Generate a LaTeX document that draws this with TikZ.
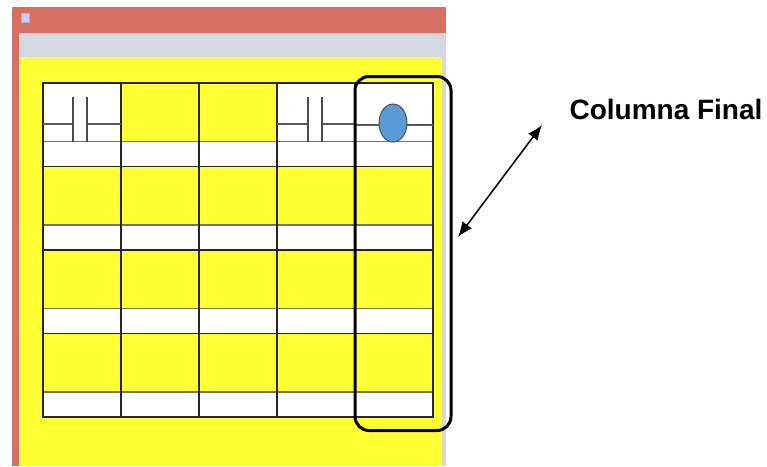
\documentclass[tikz,border=0pt]{standalone}
\usepackage{fontspec}
\setmainfont{Liberation Sans}
\usetikzlibrary{arrows.meta}
\definecolor{titulo}{RGB}{214,112,98}
\definecolor{barra}{RGB}{213,216,224}
\definecolor{amarillo}{RGB}{255,255,51}
\definecolor{celeste}{RGB}{91,155,213}
\tikzstyle{reja} = [draw=black!85, line width=1.1]
\tikzstyle{franja} = [draw=black!55, line width=1.1]
\tikzstyle{cable} = [draw=black!65, line width=1.3]
\tikzstyle{placa} = [draw=black!70, line width=2.6]
\begin{document}
\begin{tikzpicture}[x=1pt,y=-1pt]
				\useasboundingbox (0,0) rectangle (767,466);
				% ventana
				\fill [titulo] (12,7) rectangle (446,466);
				\fill [barra] (19,33) rectangle (446,466);
				\fill [amarillo] (19,57) rectangle (442,466);
				\fill [blue!20!white, draw=black!30] (21,13) rectangle (29,22);
				
				% celdas
				\foreach \c in {0,...,4}
					\foreach \r in {0,...,3}
						\fill [white] (43+78*\c, 141.5+83.5*\r) rectangle ++(78,25);
				\fill [white] (43,83) rectangle (121,142);
				\fill [white] (277,83) rectangle (433,142);
				\foreach \r in {0,...,3}
					\draw [franja] (43, 141.5+83.5*\r) -- (433, 141.5+83.5*\r);
				\foreach \r in {1,2,3}
					\draw [reja] (43, 83+83.5*\r) -- (433, 83+83.5*\r);
				\foreach \c in {1,...,4}
					\draw [reja] (43+78*\c, 83) -- (43+78*\c, 417);
				\draw [reja] (43,83) rectangle (433,417);
				
				% condensadores y lampara
				\draw [cable] (43,124) -- (73,124);
				\draw [cable] (87,124) -- (121,124);
				\draw [placa] (73,97) -- (73,142);
				\draw [placa] (87,97) -- (87,142);
				\draw [cable] (277,124) -- (308,124);
				\draw [cable] (322,124) -- (355,124);
				\draw [placa] (308,97) -- (308,142);
				\draw [placa] (322,97) -- (322,142);
				\draw [cable] (355,125) -- (433,125);
				\draw [fill=celeste, draw=black!70, line width=1] (393,123) ellipse (14 and 19);
				
				% columna final
				\node (marco) [draw, line width=3, rounded corners=14, inner sep=0,
					minimum width=96, minimum height=354] at (403,253.5) {};
				\node (final) [anchor=base west, font=\bfseries\fontsize{28}{34}\selectfont] at (566,119) {Columna Final};
				\coordinate (pA) at (458,237);
				\coordinate (pB) at (542,125);
				\draw [{Latex[length=15,width=12]}-{Latex[length=15,width=12]}, line width=1.5] (pA) -- (pB);
			\end{tikzpicture}
\end{document}
